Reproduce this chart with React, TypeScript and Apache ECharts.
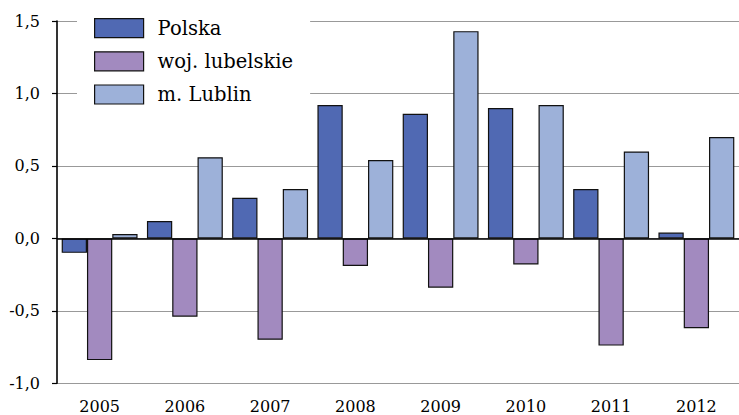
import React, { useEffect, useRef } from "react";
import * as echarts from "echarts";

const years = ["2005", "2006", "2007", "2008", "2009", "2010", "2011", "2012"];
const polska = [-0.1, 0.12, 0.28, 0.92, 0.86, 0.9, 0.34, 0.04];
const lubelskie = [-0.84, -0.54, -0.7, -0.19, -0.34, -0.18, -0.74, -0.62];
const lublin = [0.03, 0.56, 0.34, 0.54, 1.43, 0.92, 0.6, 0.7];
const seriesNames = ["Polska", "woj. lubelskie", "m. Lublin"];
const colors = ["#5069B3", "#A28ABF", "#9DB1D9"];

const FONT = "DejaVu Serif";

export default function App() {
  const ref = useRef<HTMLDivElement>(null);
  useEffect(() => {
    if (!ref.current) return;
    const chart = echarts.init(ref.current, null, { renderer: "svg" });
    const data = [polska, lubelskie, lublin];
    chart.setOption({
      animation: false,
      backgroundColor: "#fff",
      textStyle: { fontFamily: FONT },
      grid: { left: 57, top: 21, width: 688, height: 362.3 },
      legend: {
        orient: "vertical",
        left: 77,
        top: 9,
        padding: [9, 17, 10, 17],
        backgroundColor: "#fff",
        itemWidth: 49,
        itemHeight: 19,
        itemGap: 13,
        icon: "rect",
        itemStyle: { borderColor: "#111", borderWidth: 1.2 },
        textStyle: {
          fontFamily: FONT,
          fontSize: 19.5,
          color: "#000",
          padding: [0, 0, 0, 9],
        },
        data: seriesNames,
      },
      xAxis: {
        type: "category",
        data: years,
        axisLine: { show: false },
        axisTick: { show: false },
        axisLabel: {
          fontFamily: FONT,
          fontSize: 16,
          color: "#000",
          margin: 15,
        },
      },
      yAxis: {
        type: "value",
        min: -1,
        max: 1.5,
        interval: 0.5,
        axisLine: { show: true, lineStyle: { color: "#000", width: 1.6 } },
        axisTick: { show: true, length: 5, lineStyle: { color: "#000", width: 1.2 } },
        axisLabel: {
          fontFamily: FONT,
          fontSize: 16,
          color: "#000",
          margin: 17,
          formatter: (v: number) => v.toFixed(1).replace(".", ","),
        },
        splitLine: { show: true, lineStyle: { color: "#999", width: 1.2 } },
      },
      series: seriesNames.map((name, i) => ({
        name,
        type: "bar",
        data: data[i],
        barGap: "0%",
        barCategoryGap: "11%",
        itemStyle: {
          color: colors[i],
          borderColor: "#111",
          borderWidth: 1.2,
        },
        markLine:
          i === 2
            ? {
                silent: true,
                symbol: "none",
                label: { show: false },
                lineStyle: { color: "#000", width: 1.6, type: "solid" },
                data: [{ yAxis: 0 }],
              }
            : undefined,
      })),
    });
    return () => chart.dispose();
  }, []);
  return (
    <div
      ref={ref}
      style={{ position: "fixed", left: 0, top: 0, width: 739, height: 415 }}
    />
  );
}
